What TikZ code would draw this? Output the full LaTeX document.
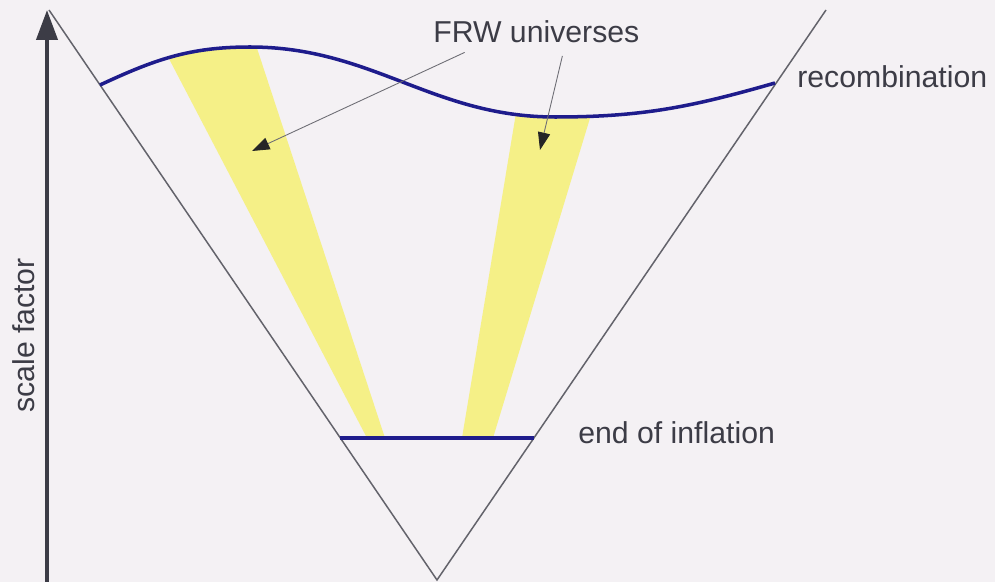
\documentclass[tikz,border=0pt]{standalone}
\usepackage{fontspec}
\setmainfont{Liberation Sans}
\usetikzlibrary{arrows.meta,positioning,calc}
\definecolor{paper}{RGB}{244,241,244}
\definecolor{ink}{RGB}{60,60,70}
\definecolor{navy}{RGB}{30,28,140}
\definecolor{frwyellow}{RGB}{245,240,135}
\tikzstyle{label} = [text=ink, inner sep=0pt, font=\fontsize{17.2}{20}\selectfont]
\tikzstyle{cone} = [draw=ink!80, line width=0.85pt]
\tikzstyle{epoch} = [draw=navy, line width=2.2pt]
\tikzstyle{pointer} = [draw=ink!75, line width=0.5pt, -{Triangle[length=10pt,width=7pt,color=black!85]}]

\begin{document}
\begin{tikzpicture}[x=0.02cm, y=0.02cm]

% paper
\fill[paper] (0,0) rectangle (995,582);
\useasboundingbox (0,0) rectangle (995,582);

% FRW wedges, kept below the recombination curve
\begin{scope}
\clip (100,497) to[out=25,in=180] (250,535) to[out=0,in=180] (555,465)
      to[out=0,in=196] (775,499) -- (775,0) -- (100,0) -- cycle;
\fill[frwyellow] (367,144) -- (154,552) -- (251,552) -- (385,144) -- cycle;
\fill[frwyellow] (462,144) -- (519,487) -- (597,487) -- (493,144) -- cycle;
\end{scope}

% light cone
\coordinate (apex) at (437,2);
\coordinate (coneL) at (49,572);
\coordinate (coneR) at (826,572);
\draw[cone] (coneL) -- (apex) -- (coneR);

% scale factor axis
\coordinate (axisfoot) at (47,0);
\coordinate (axistip) at (47,572);
\draw[draw=ink, line width=2.4pt, -{Triangle[length=0.6cm,width=0.42cm]}] (axisfoot) -- (axistip);
\node[label, rotate=90, anchor=base west] (scale) at (35,169) {scale factor};

% end of inflation
\coordinate (inflL) at (340,144);
\coordinate (inflR) at (534,144);
\draw[epoch] (inflL) -- (inflR);
\node[label, anchor=base west] (infl) at (578,138) {end of inflation};

% recombination
\coordinate (recL) at (100,497);
\coordinate (recR) at (775,499);
\draw[epoch, line width=2pt] (recL) to[out=25,in=180] (250,535) to[out=0,in=180] (555,465)
      to[out=0,in=196] (recR);
\node[label, anchor=base west] (recomb) at (797,494) {recombination};

% FRW universes
\node[label, anchor=base west] (frw) at (433,539) {FRW universes};
\coordinate (wedgeL) at (252,431);
\coordinate (wedgeR) at (540,432);
\draw[pointer] ([xshift=18pt,yshift=-5pt]frw.south west) -- (wedgeL);
\draw[pointer] ([xshift=-44pt,yshift=-7pt]frw.south east) -- (wedgeR);

\end{tikzpicture}
\end{document}
